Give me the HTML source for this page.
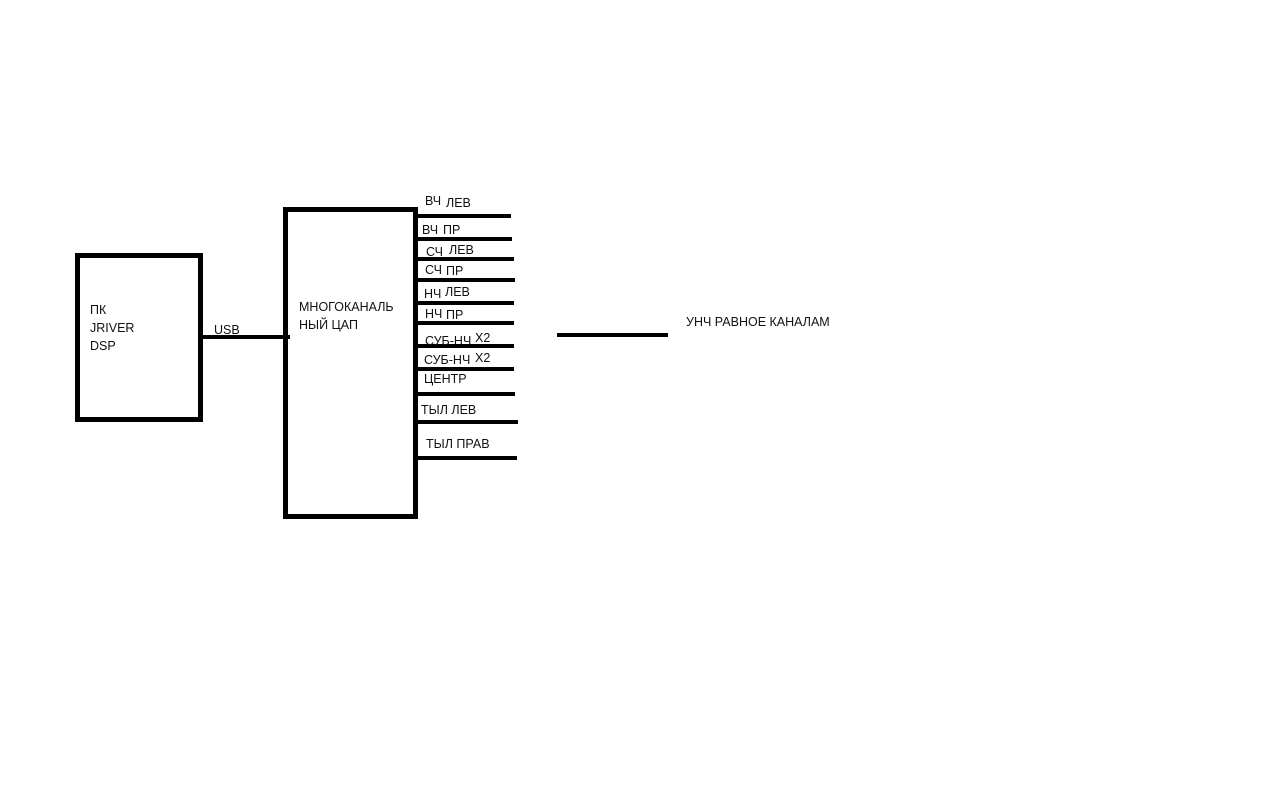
<!DOCTYPE html>
<html><head><meta charset="utf-8"><style>
html,body{margin:0;padding:0;background:#fff;}
svg{display:block}
text{font-family:"Liberation Sans",sans-serif;font-size:12.5px;fill:#111;}
</style></head><body>
<svg width="1266" height="798" xmlns="http://www.w3.org/2000/svg">
<rect x="77.5" y="255.5" width="123" height="164" fill="none" stroke="#000" stroke-width="5"/>
<rect x="285.5" y="209.5" width="130" height="307" fill="none" stroke="#000" stroke-width="5"/>
<line x1="202" y1="337" x2="290" y2="337" stroke="#000" stroke-width="4"/>
<g stroke="#000" stroke-width="4">
<line x1="418" y1="216" x2="511" y2="216"/>
<line x1="418" y1="239" x2="512" y2="239"/>
<line x1="418" y1="259" x2="514" y2="259"/>
<line x1="418" y1="280" x2="515" y2="280"/>
<line x1="418" y1="303" x2="514" y2="303"/>
<line x1="418" y1="323" x2="514" y2="323"/>
<line x1="418" y1="346" x2="514" y2="346"/>
<line x1="418" y1="369" x2="514" y2="369"/>
<line x1="418" y1="394" x2="515" y2="394"/>
<line x1="414" y1="422" x2="518" y2="422"/>
<line x1="418" y1="458" x2="517" y2="458"/>
<line x1="557" y1="335" x2="668" y2="335"/>
</g>
<text x="90" y="314">ПК</text>
<text x="90" y="332">JRIVER</text>
<text x="90" y="350">DSP</text>
<text x="214" y="334">USB</text>
<text x="299" y="311">МНОГОКАНАЛЬ</text>
<text x="299" y="329">НЫЙ ЦАП</text>
<text x="425" y="205">ВЧ</text><text x="446" y="207">ЛЕВ</text>
<text x="422" y="234">ВЧ</text><text x="443" y="234">ПР</text>
<text x="426" y="256">СЧ</text><text x="449" y="254">ЛЕВ</text>
<text x="425" y="274">СЧ</text><text x="446" y="275">ПР</text>
<text x="424" y="298">НЧ</text><text x="445" y="296">ЛЕВ</text>
<text x="425" y="318">НЧ</text><text x="446" y="319">ПР</text>
<text x="425" y="345">СУБ-НЧ</text><text x="475" y="342">Х2</text>
<text x="424" y="364">СУБ-НЧ</text><text x="475" y="362">Х2</text>
<text x="424" y="383">ЦЕНТР</text>
<text x="421" y="414">ТЫЛ ЛЕВ</text>
<text x="426" y="448">ТЫЛ ПРАВ</text>
<text x="686" y="326">УНЧ РАВНОЕ КАНАЛАМ</text>
</svg>
</body></html>
